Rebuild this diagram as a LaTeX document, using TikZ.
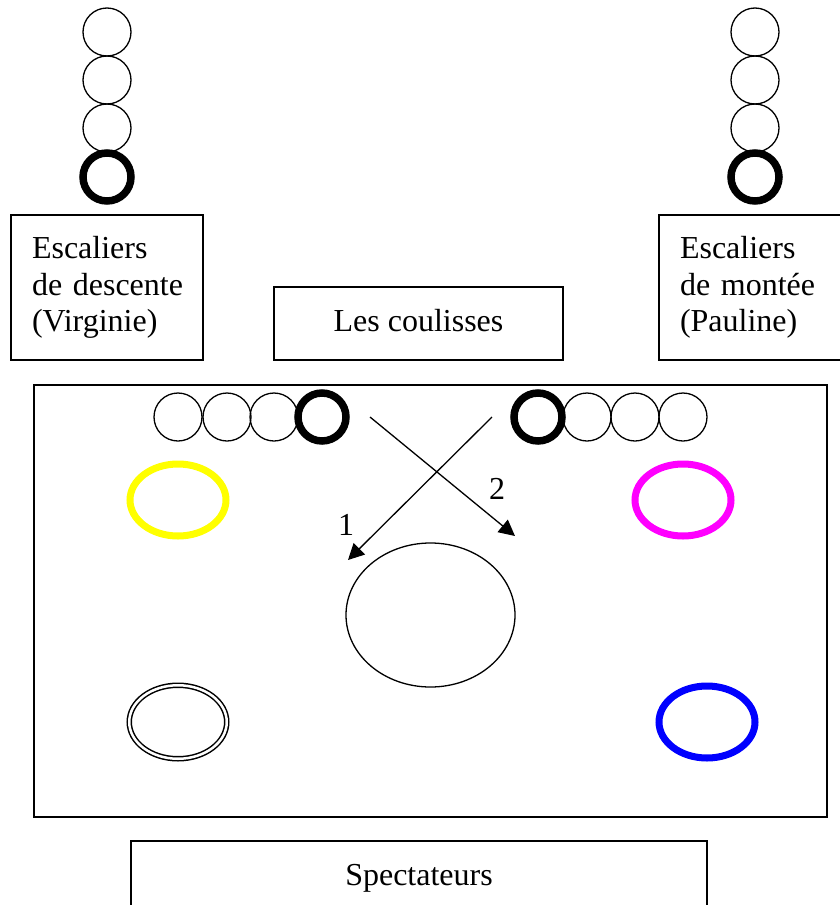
\documentclass[tikz,border=0pt]{standalone}
\usepackage{fontspec}
\setmainfont{Liberation Serif}
\usetikzlibrary{shapes.geometric,arrows.meta}
\definecolor{jaune}{RGB}{255,255,0}
\definecolor{fuchsia}{RGB}{255,0,255}
\definecolor{bleu}{RGB}{0,0,255}
\begin{document}
\begin{tikzpicture}[x=1pt, y=-1pt, line width=1.4pt,
        font=\fontsize{32}{36.7}\selectfont]
        \tikzstyle{stair}=[draw,shape=circle,minimum size=48pt,inner sep=0pt,line width=1.3pt]
        \tikzstyle{stairlast}=[stair,line width=7.5pt]
        \tikzstyle{panel}=[draw,shape=rectangle,inner sep=0pt]
        \tikzstyle{spot}=[draw,shape=ellipse,minimum width=96pt,minimum height=72pt,inner sep=0pt,line width=7pt]
        \tikzstyle{move}=[-{Triangle[length=16pt,width=16pt]},line width=1.3pt]

        \useasboundingbox (0,0) rectangle (840,905);
        \clip (0,0) rectangle (840,905);

        % escaliers
        \node[stair](v1) at (107,32){};
        \node[stair](v2) at (107,80){};
        \node[stair](v3) at (107,128){};
        \node[stairlast](v4) at (107,177){};
        \node[stair](p1) at (755,32){};
        \node[stair](p2) at (755,80){};
        \node[stair](p3) at (755,128){};
        \node[stairlast](p4) at (755,177){};

        \node[panel,minimum width=192pt,minimum height=145pt,text width=150pt,align=left](descente) at (107,287.5){Escaliers\\\mbox{de descente}\\(Virginie)};
        \node[panel,minimum width=289pt,minimum height=73pt,text height=22pt,text depth=7pt](coulisses) at (418.5,323.5){Les coulisses};
        \node[panel,minimum width=192pt,minimum height=145pt,text width=150pt,align=left](montee) at (755,287.5){Escaliers\\de montée\\(Pauline)};

        % scene
        \node[panel,minimum width=793pt,minimum height=432pt](scene) at (430.5,601){};

        \node[stair](h1) at (178,417){};
        \node[stair](h2) at (227,417){};
        \node[stair](h3) at (274,417){};
        \node[stairlast](h4) at (322,417){};
        \node[stair](k2) at (587,417){};
        \node[stair](k3) at (635,417){};
        \node[stair](k4) at (683,417){};
        \node[stairlast](k1) at (538,417){};

        \node[spot,jaune](jaune) at (178,500){};
        \node[spot,fuchsia](rose) at (683,500){};
        \node[spot,line width=1.5pt,double,double distance=2.5pt,minimum width=97.5pt,minimum height=73.5pt](noir) at (178,722){};
        \node[spot,bleu](bleu) at (707,722){};
        \node[draw,shape=ellipse,minimum width=169pt,minimum height=144pt,inner sep=0pt,line width=1.3pt](centre) at (430.5,615){};

        \coordinate (s1) at (492,417);
        \coordinate (e1) at (348,560);
        \coordinate (s2) at (370,417);
        \coordinate (e2) at (515,536);
        \draw[move] (s1) -- (e1);
        \draw[move] (s2) -- (e2);
        \node(n1) at (346,525){1};
        \node(n2) at (497,489){2};

        \node[panel,minimum width=576pt,minimum height=73pt,text height=22pt,text depth=7pt](public) at (419,877.5){Spectateurs};

        \end{tikzpicture}
\end{document}
